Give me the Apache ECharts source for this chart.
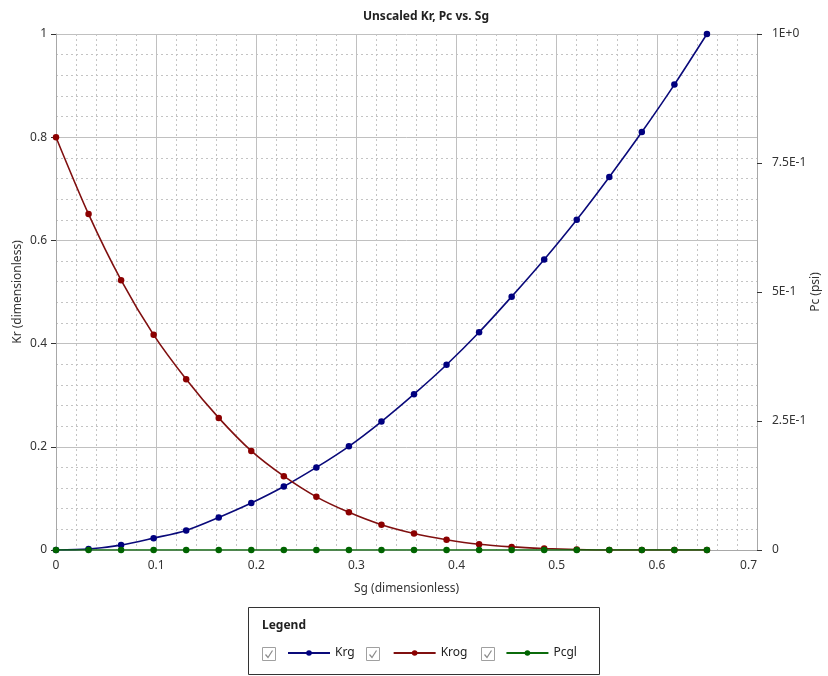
<!DOCTYPE html>
<html>
<head>
<meta charset="utf-8">
<script src="https://cdn.jsdelivr.net/npm/echarts@6/dist/echarts.min.js"></script>
<style>
html,body{margin:0;padding:0;background:#fff;}
#chart{width:828px;height:676px;}
</style>
</head>
<body>
<div id="chart"></div>
<script>
const sg = [0, 0.0325, 0.065, 0.0975, 0.13, 0.1625, 0.195, 0.2275, 0.26, 0.2925, 0.325, 0.3575, 0.39, 0.4225, 0.455, 0.4875, 0.52, 0.5525, 0.585, 0.6175, 0.65];
const krg = [0, 0.002, 0.0095, 0.023, 0.038, 0.063, 0.091, 0.123, 0.160, 0.201, 0.249, 0.302, 0.359, 0.422, 0.491, 0.563, 0.640, 0.723, 0.810, 0.902, 1.0];
const krog = [0.8, 0.651, 0.523, 0.417, 0.331, 0.256, 0.192, 0.143, 0.103, 0.073, 0.049, 0.032, 0.020, 0.011, 0.006, 0.003, 0.001, 0, 0, 0, 0];
const pcgl = [0, 0, 0, 0, 0, 0, 0, 0, 0, 0, 0, 0, 0, 0, 0, 0, 0, 0, 0, 0, 0];
const xTicks = ['0', '0.1', '0.2', '0.3', '0.4', '0.5', '0.6', '0.7'];
const pcTickLabels = {0: '0', 0.25: '2.5E-1', 0.5: '5E-1', 0.75: '7.5E-1', 1: '1E+0'};
const seriesNames = ['Krg', 'Krog', 'Pcgl'];

const FONT = '"Noto Sans", "Open Sans", sans-serif';
const pairs = arr => sg.map((x, i) => [x, arr[i]]);

function checkbox(x, y) {
  return {
    type: 'group', x: x, y: y,
    children: [
      {type: 'rect', shape: {x: 0.5, y: 0.5, width: 13, height: 13}, style: {fill: '#fff', stroke: '#a0a0a0', lineWidth: 1}},
      {type: 'polyline', shape: {points: [[3.5, 7.5], [6, 10.5], [10.5, 3.5]]}, style: {stroke: '#8a8a8a', lineWidth: 1.2, fill: null}}
    ]
  };
}

const chart = echarts.init(document.getElementById('chart'), null, {renderer: 'canvas'});
chart.setOption({
  animation: false,
  textStyle: {fontFamily: FONT},
  title: {
    text: 'Unscaled Kr, Pc vs. Sg',
    left: 358, top: 6,
    textStyle: {fontSize: 12, fontWeight: 'bold', color: '#222', fontFamily: FONT}
  },
  grid: {left: 56, right: 71, top: 34, bottom: 126, containLabel: false, outerBoundsMode: 'none'},
  xAxis: {
    type: 'value', min: 0, max: 0.7, interval: 0.1,
    name: 'Sg (dimensionless)', nameLocation: 'middle', nameGap: 33, nameMoveOverlap: false,
    nameTextStyle: {fontSize: 12, color: '#333', fontFamily: FONT},
    axisLine: {show: true, onZero: false, lineStyle: {color: '#a8a8a8', width: 1}},
    axisTick: {show: false},
    axisLabel: {
      fontSize: 12, color: '#333', margin: 10, alignMaxLabel: 'right',
      formatter: v => xTicks[Math.round(v * 10)]
    },
    splitLine: {show: true, lineStyle: {color: '#c0c0c0', width: 1}},
    minorTick: {show: false, splitNumber: 5},
    minorSplitLine: {show: true, lineStyle: {color: '#c4c4c4', type: [2, 3], width: 1}}
  },
  yAxis: [
    {
      type: 'value', min: 0, max: 1, interval: 0.2,
      name: 'Kr (dimensionless)', nameLocation: 'middle', nameGap: 32, nameRotate: 90, nameMoveOverlap: false,
      nameTextStyle: {fontSize: 12, color: '#333', fontFamily: FONT},
      axisLine: {show: true, lineStyle: {color: '#a8a8a8', width: 1}},
      axisTick: {show: true, length: 5, lineStyle: {color: '#333'}},
      axisLabel: {fontSize: 12, color: '#333', margin: 9},
      splitLine: {show: true, lineStyle: {color: '#c0c0c0', width: 1}},
      minorTick: {show: false, splitNumber: 5},
      minorSplitLine: {show: true, lineStyle: {color: '#c4c4c4', type: [2, 3], width: 1}}
    },
    {
      type: 'value', min: 0, max: 1, interval: 0.25, position: 'right',
      name: 'Pc (psi)', nameLocation: 'middle', nameGap: 53, nameRotate: 90, nameMoveOverlap: false,
      nameTextStyle: {fontSize: 12, color: '#333', fontFamily: FONT},
      axisLine: {show: true, lineStyle: {color: '#a8a8a8', width: 1}},
      axisTick: {show: true, length: 5, lineStyle: {color: '#333'}},
      axisLabel: {fontSize: 12, color: '#333', margin: 15, formatter: v => pcTickLabels[v]},
      splitLine: {show: false}
    }
  ],
  legend: {
    data: seriesNames,
    left: 287, top: 647, padding: 0,
    itemWidth: 42, itemHeight: 7, itemGap: 38,
    textStyle: {fontSize: 12, color: '#222', fontFamily: FONT},
    selectedMode: false
  },
  graphic: [
    {type: 'rect', shape: {x: 248.5, y: 607.5, width: 351, height: 67}, style: {fill: 'none', stroke: '#333', lineWidth: 1}},
    {type: 'text', x: 262, y: 620, style: {text: 'Legend', font: 'bold 12px ' + FONT, fill: '#222'}},
    checkbox(262, 647),
    checkbox(366, 647),
    checkbox(481, 647)
  ],
  series: [
    {
      name: seriesNames[0], type: 'line', data: pairs(krg), yAxisIndex: 0,
      smooth: 0.3, symbol: 'circle', symbolSize: 6.5,
      lineStyle: {color: '#0a0a7a', width: 1.6}, itemStyle: {color: '#00007f'}
    },
    {
      name: seriesNames[1], type: 'line', data: pairs(krog), yAxisIndex: 0,
      smooth: 0.3, symbol: 'circle', symbolSize: 6.5,
      lineStyle: {color: '#801010', width: 1.6}, itemStyle: {color: '#8b0000'}
    },
    {
      name: seriesNames[2], type: 'line', data: pairs(pcgl), yAxisIndex: 1,
      smooth: 0.3, symbol: 'circle', symbolSize: 6.5,
      lineStyle: {color: '#0b6b0b', width: 1.6}, itemStyle: {color: '#006400'}
    }
  ]
});
</script>
</body>
</html>
